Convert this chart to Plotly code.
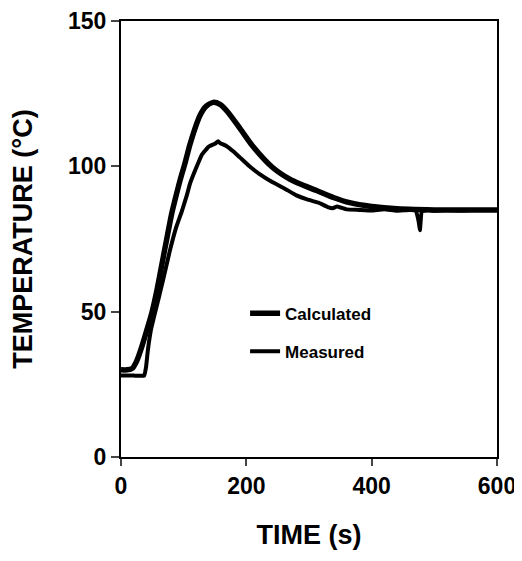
import plotly.graph_objects as go

# Calculated temperature (°C) vs time (s)
calc_time = [0, 10, 18, 25, 33, 41, 49, 57, 65, 73, 81, 88, 94, 102, 110, 118, 126, 135,
             147, 158, 170, 190, 210, 242, 270, 285, 312, 340, 365, 400, 430, 460, 500, 550, 600]
calc_temp = [30, 30, 30.5, 33, 37.8, 43.5, 49.4, 57, 66, 75, 83.8, 90, 95, 101, 107.5, 113, 117.5, 120.5,
             122, 121.3, 118.8, 113, 107, 99.6, 95.5, 94, 91.7, 89.2, 87.5, 86.2, 85.6, 85.2, 85, 85, 85]

# Measured temperature (°C) vs time (s)
meas_time = [0, 20, 37, 40, 43, 48, 54, 60, 67, 78, 88, 97, 105, 110, 120, 129, 140, 150, 155, 158,
             168, 180, 190, 205, 220, 242, 260, 280, 297, 315, 330, 338, 345, 360, 380, 400, 420,
             440, 460, 470, 475, 477, 480, 490, 500, 520, 540, 560, 580, 600]
meas_temp = [28, 28, 28, 31, 37, 44, 49.4, 54.5, 60.8, 71, 79, 84.5, 90, 94, 99.5, 104, 106.8, 107.8, 108.6, 108,
             107, 105, 103, 100, 97.5, 94.5, 92.5, 90, 88.6, 87.5, 86, 85.6, 86.2, 85.2, 85, 84.8, 85.2,
             84.7, 85, 84.8, 81, 78, 84.5, 85, 84.7, 85, 84.8, 85, 85, 85]

x_ticks = [0, 200, 400, 600]
y_ticks = [0, 50, 100, 150]

FONT = "Liberation Sans, Arial, sans-serif"

fig = go.Figure()
fig.add_trace(go.Scatter(x=calc_time, y=calc_temp, mode="lines", name="Calculated",
                         legendgroup="a", line=dict(color="#000000", width=5.5, shape="spline", smoothing=0.7)))
fig.add_trace(go.Scatter(x=meas_time, y=meas_temp, mode="lines", name="Measured",
                         legendgroup="b", line=dict(color="#000000", width=4, shape="spline", smoothing=0.3)))

# page body has an 8px margin, so the figure is sized to fit the 522x561 window without scrollbars
fig.update_layout(
    width=514, height=545,
    margin=dict(l=113, r=25, t=13, b=96),
    paper_bgcolor="white", plot_bgcolor="white",
    font=dict(family=FONT, color="black"),
    showlegend=True,
    legend=dict(x=0.33, y=0.37, xanchor="left", yanchor="top", bgcolor="rgba(0,0,0,0)",
                font=dict(size=17, family=FONT, color="black", weight="bold"),
                tracegroupgap=13, itemwidth=30),
    xaxis=dict(range=[0, 600], tickvals=x_ticks, ticks="outside", ticklen=7, tickwidth=2,
               showline=True, linewidth=2, linecolor="black", mirror=True, showgrid=False, zeroline=False,
               automargin=False, ticklabeloverflow="allow",
               tickfont=dict(size=23, family=FONT, weight="bold"),
               title=dict(text="TIME (s)", font=dict(size=27, family=FONT, weight="bold"), standoff=28)),
    yaxis=dict(range=[0, 150], tickvals=y_ticks, ticks="outside", ticklen=8, tickwidth=2,
               showline=True, linewidth=2, linecolor="black", mirror=True, showgrid=False, zeroline=False,
               automargin=False, ticklabeloverflow="allow",
               tickfont=dict(size=23, family=FONT, weight="bold"),
               title=dict(text="TEMPERATURE (°C)", font=dict(size=27, family=FONT, weight="bold"), standoff=35)),
)

fig.write_html("out.html")
